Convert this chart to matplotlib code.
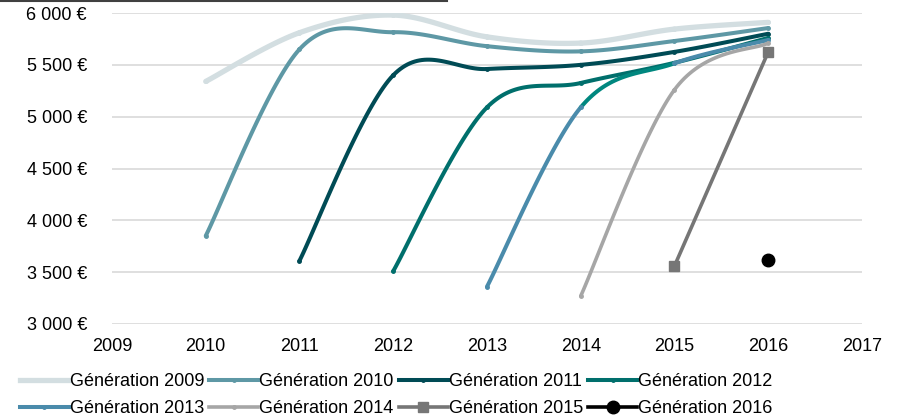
import numpy as np
import matplotlib
matplotlib.use('Agg')
from matplotlib import pyplot as plt
from matplotlib.lines import Line2D

plt.rcParams['font.family'] = ['Liberation Sans', 'DejaVu Sans']

years = [2009, 2010, 2011, 2012, 2013, 2014, 2015, 2016, 2017]
gen_names = ['Génération 2009', 'Génération 2010', 'Génération 2011', 'Génération 2012',
             'Génération 2013', 'Génération 2014', 'Génération 2015', 'Génération 2016']
gen_start = [2010, 2010, 2011, 2012, 2013, 2014, 2015, 2016]

g2009 = [5340, 5810, 5980, 5770, 5710, 5845, 5910]
g2010 = [3850, 5650, 5815, 5680, 5630, 5730, 5855]
g2011 = [3610, 5400, 5460, 5500, 5625, 5800]
g2012 = [3510, 5090, 5325, 5520, 5760]
g2013 = [3360, 5090, 5515, 5740]
g2014 = [3270, 5260, 5710]
g2015 = [3560, 5625]
g2016 = [3620]
series = [g2009, g2010, g2011, g2012, g2013, g2014, g2015, g2016]

colors = ['#D3DEE1', '#5E98A5', '#004B55', '#006F6C', '#4A8BAB', '#A6A6A6', '#767676', '#000000']
widths = [3.8, 2.9, 2.9, 2.9, 2.9, 2.6, 2.6, 2.6]
markers = ['o', 'o', 'o', 'o', 'o', 'o', 's', 'o']
msizes = [2.5, 2.5, 2.5, 2.5, 2.5, 2.5, 7, 9]


def smooth(x, y, n=40):
    # excel-like bezier smoothing
    x = np.asarray(x, float)
    y = np.asarray(y, float)
    if len(x) < 3:
        return [(x, y)]
    px = np.concatenate([[x[0]], x, [x[-1]]])
    py = np.concatenate([[y[0]], y, [y[-1]]])
    segs = []
    t = np.linspace(0, 1, n)
    for i in range(len(x) - 1):
        p0 = np.array([px[i + 1], py[i + 1]])
        p3 = np.array([px[i + 2], py[i + 2]])
        c1 = p0 + (np.array([px[i + 2], py[i + 2]]) - np.array([px[i], py[i]])) / 6
        c2 = p3 - (np.array([px[i + 3], py[i + 3]]) - np.array([px[i + 1], py[i + 1]])) / 6
        b = ((1 - t) ** 3)[:, None] * p0 + (3 * (1 - t) ** 2 * t)[:, None] * c1 \
            + (3 * (1 - t) * t ** 2)[:, None] * c2 + (t ** 3)[:, None] * p3
        segs.append((b[:, 0], b[:, 1]))
    return segs


fig = plt.figure(figsize=(9.03, 4.2), dpi=100)
ax = fig.add_axes([0.124, 0.2286, 0.8306, 0.7404])

handles = []
for k, vals in enumerate(series):
    xs = list(range(gen_start[k], gen_start[k] + len(vals)))
    segs = smooth(xs, vals)
    for j, (sx, sy) in enumerate(segs):
        c = colors[k]
        if k == 4 and j == 1:
            c = '#00877F'
        ax.plot(sx, sy, color=c, lw=widths[k], solid_capstyle='round', zorder=3 + k * 0.1)
    ax.plot(xs, vals, linestyle='none', marker=markers[k], ms=msizes[k],
            color=colors[k], zorder=3.05 + k * 0.1)
    handles.append(Line2D([], [], color=colors[k], lw=widths[k], marker=markers[k],
                          ms=msizes[k]))

ax.set_xlim(2009, 2017)
ax.set_ylim(3000, 6000)
ax.set_xticks(years)
ax.set_yticks(range(3000, 6001, 500))
ax.set_yticklabels([f'{v // 1000} {v % 1000:03d} €' for v in range(3000, 6001, 500)])
ax.grid(axis='y', color='#D9D9D9', lw=1.2)
ax.set_axisbelow(True)
for s in ax.spines.values():
    s.set_visible(False)
ax.tick_params(length=0, labelsize=13, colors='#000000')
ax.tick_params(axis='y', pad=18)
ax.tick_params(axis='x', pad=10)

# legend filled row by row
order = [0, 4, 1, 5, 2, 6, 3, 7]
fig.legend(handles=[handles[i] for i in order], labels=[gen_names[i] for i in order],
           ncol=4, frameon=False, fontsize=13,
           loc='lower left', bbox_to_anchor=(0.004, -0.032), handlelength=2.7,
           handletextpad=0.05, columnspacing=0.3, labelspacing=0.55)

# top border left from the cropped title
fig.add_artist(Line2D([0, 0.495], [0.998, 0.998], color='#404040', lw=1.5))

fig.savefig('out.png', dpi=100)
